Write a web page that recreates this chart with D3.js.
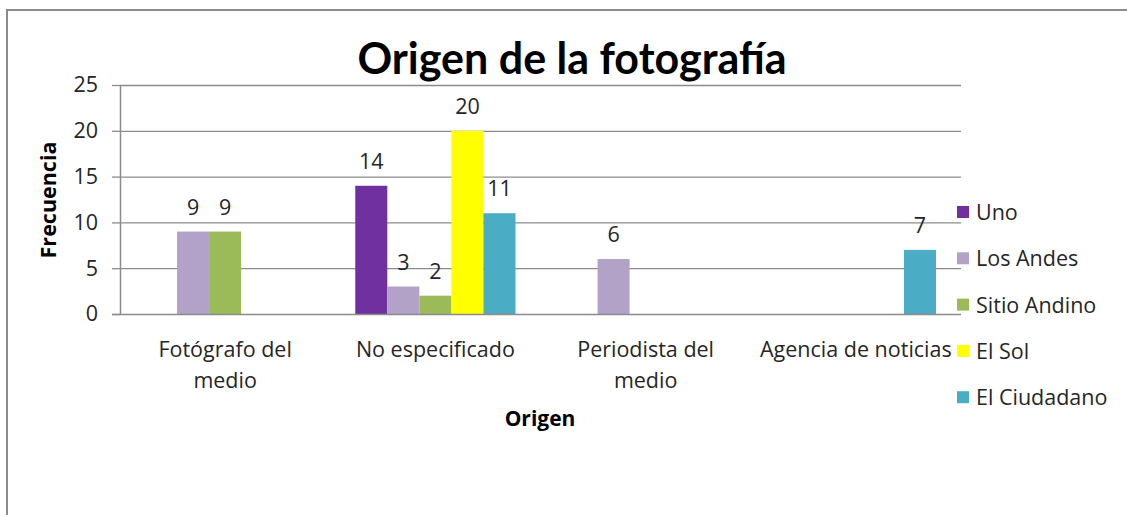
<!DOCTYPE html>
<html>
<head>
<meta charset="utf-8">
<script src="https://cdn.jsdelivr.net/npm/d3@7"></script>
<style>
  body { margin: 0; background: #fff; }
  svg { display: block; font-family: "Open Sans", sans-serif; }
</style>
</head>
<body>
<script>
// categories on the x axis
var categories = ["Fotógrafo del medio", "No especificado", "Periodista del medio", "Agencia de noticias"];
var catLines = [["Fotógrafo del", "medio"], ["No especificado"], ["Periodista del", "medio"], ["Agencia de noticias"]];

// series (0 = no bar, no label)
var seriesNames = ["Uno", "Los Andes", "Sitio Andino", "El Sol", "El Ciudadano"];
var seriesColors = ["#7030A0", "#B3A2C7", "#9BBB59", "#FFFF00", "#4BACC6"];
var uno         = [0, 14, 0, 0];
var losAndes    = [9, 3, 6, 0];
var sitioAndino = [9, 2, 0, 0];
var elSol       = [0, 20, 0, 0];
var elCiudadano = [0, 11, 0, 7];
var yTicks = [0, 5, 10, 15, 20, 25];

var values = [uno, losAndes, sitioAndino, elSol, elCiudadano];

var W = 1127, H = 515;
var mLeft = 120, mRight = 961, mTop = 85, mBottom = 314;
var fs = 21.5;

var svg = d3.select("body").append("svg")
    .attr("width", W)
    .attr("height", H);

// outer frame (only top and left are visible in the picture)
svg.append("path")
    .attr("d", "M7,515 V10 H1127")
    .attr("fill", "none")
    .attr("stroke", "#8c8c8c")
    .attr("stroke-width", 2);

var x0 = d3.scaleBand()
    .domain(categories)
    .range([mLeft, mRight])
    .paddingInner(0)
    .paddingOuter(0);

var x1 = d3.scaleBand()
    .domain(seriesNames)
    .range([0, x0.bandwidth()])
    .paddingInner(0)
    .paddingOuter(0.78);

var y = d3.scaleLinear()
    .domain([0, 25])
    .range([mBottom, mTop]);

// gridlines
svg.append("g").selectAll("line")
    .data(yTicks.filter(d => d > 0))
    .join("line")
      .attr("x1", mLeft)
      .attr("x2", mRight)
      .attr("y1", d => y(d) + 0.5)
      .attr("y2", d => y(d) + 0.5)
      .attr("stroke", "#8c8c8c")
      .attr("stroke-width", 1.3);

// y ticks
var yAxis = svg.append("g")
    .attr("transform", `translate(${mLeft},0)`)
    .call(d3.axisLeft(y).tickValues(yTicks).tickSize(8).tickPadding(14).tickFormat(d3.format("d")));
yAxis.select(".domain").remove();
yAxis.selectAll(".tick line").attr("stroke", "#8c8c8c").attr("stroke-width", 1.3);
yAxis.selectAll(".tick text")
    .attr("font-size", fs)
    .attr("fill", "#262626")
    .attr("font-family", "'Open Sans', sans-serif");

// bars
var flat = [];
categories.forEach(function(c, ci) {
  seriesNames.forEach(function(s, si) {
    flat.push({cat: c, s: s, color: seriesColors[si], v: values[si][ci]});
  });
});
var shown = flat.filter(d => d.v > 0);

svg.append("g").selectAll("rect")
    .data(shown)
    .join("rect")
      .attr("x", d => x0(d.cat) + x1(d.s))
      .attr("y", d => y(d.v))
      .attr("width", x1.bandwidth())
      .attr("height", d => y(0) - y(d.v))
      .attr("fill", d => d.color);

svg.append("g").selectAll("text")
    .data(shown)
    .join("text")
      .attr("x", d => x0(d.cat) + x1(d.s) + x1.bandwidth() / 2)
      .attr("y", d => y(d.v) - 17)
      .attr("text-anchor", "middle")
      .attr("font-size", fs)
      .attr("fill", "#262626")
      .text(d => d.v);

// axes lines
svg.append("line")
    .attr("x1", mLeft - 8).attr("x2", mRight)
    .attr("y1", mBottom + 0.5).attr("y2", mBottom + 0.5)
    .attr("stroke", "#8c8c8c").attr("stroke-width", 1.5);
svg.append("line")
    .attr("x1", mLeft + 0.5).attr("x2", mLeft + 0.5)
    .attr("y1", mTop).attr("y2", mBottom)
    .attr("stroke", "#8c8c8c").attr("stroke-width", 1.5);

// category labels
var xl = svg.append("g").selectAll("text")
    .data(categories)
    .join("text")
      .attr("x", d => x0(d) + x0.bandwidth() / 2)
      .attr("y", 357)
      .attr("text-anchor", "middle")
      .attr("font-size", fs)
      .attr("fill", "#262626");
xl.selectAll("tspan")
    .data((d, i) => catLines[i])
    .join("tspan")
      .attr("x", function() { return this.parentNode.getAttribute("x"); })
      .attr("dy", (d, i) => i === 0 ? 0 : 31)
      .text(d => d);

// title
svg.append("text")
    .attr("x", 572)
    .attr("y", 74)
    .attr("text-anchor", "middle")
    .attr("font-family", "Lato, sans-serif")
    .attr("font-size", 43)
    .attr("font-weight", "bold")
    .attr("fill", "#000")
    .text("Origen de la fotografía");

// axis titles
svg.append("text")
    .attr("x", 540)
    .attr("y", 426)
    .attr("text-anchor", "middle")
    .attr("font-size", 21)
    .attr("font-weight", "bold")
    .attr("fill", "#000")
    .text("Origen");

svg.append("text")
    .attr("transform", "translate(56,200) rotate(-90)")
    .attr("text-anchor", "middle")
    .attr("font-size", 21.5)
    .attr("font-weight", "bold")
    .attr("fill", "#000")
    .text("Frecuencia");

// legend
var legend = svg.append("g").selectAll("g")
    .data(seriesNames)
    .join("g")
      .attr("transform", (d, i) => `translate(957,${212 + i * 46.3})`);
legend.append("rect")
    .attr("x", 0).attr("y", -6)
    .attr("width", 12).attr("height", 12)
    .attr("fill", (d, i) => seriesColors[i]);
legend.append("text")
    .attr("x", 19)
    .attr("y", 8)
    .attr("font-size", fs)
    .attr("fill", "#262626")
    .text(d => d);
</script>
</body>
</html>
